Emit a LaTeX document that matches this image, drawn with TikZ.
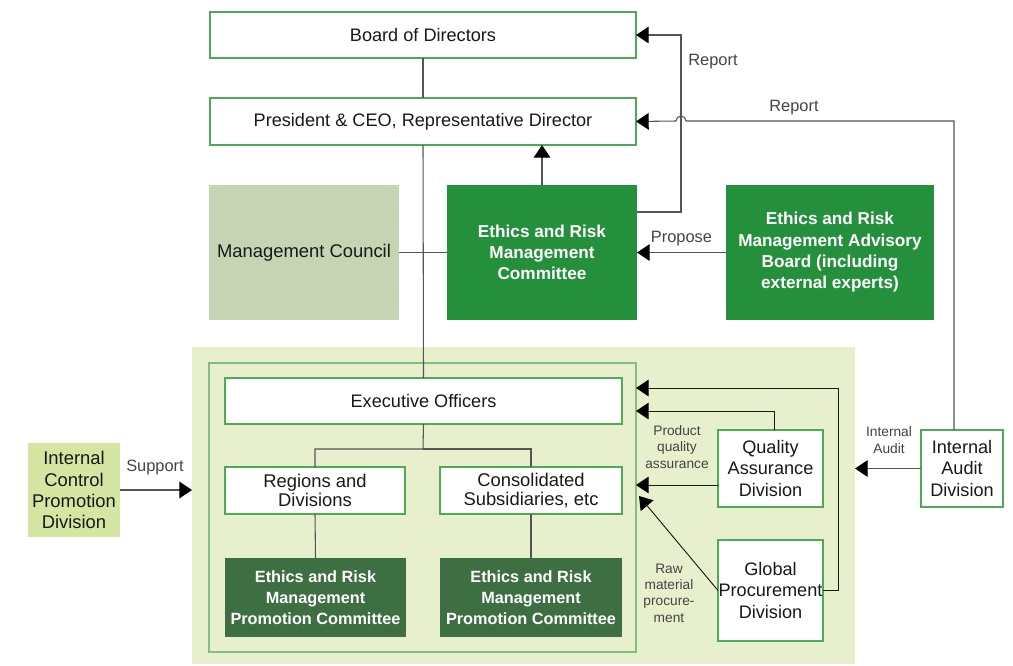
\documentclass[tikz,border=0pt]{standalone}
\usepackage{fontspec}
\setmainfont{Liberation Sans}
\usetikzlibrary{arrows.meta}
\definecolor{bord}{HTML}{4DAA57}
\definecolor{ermcg}{HTML}{25903C}
\definecolor{darkg}{HTML}{3E6F43}
\definecolor{mcg}{HTML}{C6D4B4}
\definecolor{bgg}{HTML}{E8EFCD}
\definecolor{icpg}{HTML}{D5E6A3}
\definecolor{innerb}{HTML}{82BF7F}
\definecolor{lbl}{HTML}{444444}
\definecolor{ln}{HTML}{555555}
\tikzset{
  wbox/.style={draw=bord, line width=0.9pt, fill=white, inner sep=0pt, outer sep=0pt, align=center, text=black!90, font=\fontsize{13.6}{15.8}\selectfont},
  gbox/.style={fill=ermcg, inner sep=0pt, outer sep=0pt, align=center, text=white, font=\fontsize{12.9}{16}\selectfont\bfseries},
  dbox/.style={fill=darkg, inner sep=0pt, outer sep=0pt, align=center, text=white, font=\fontsize{12.2}{15.8}\selectfont\bfseries},
  lab/.style={text=lbl, align=center, font=\fontsize{12.3}{14}\selectfont},
  slab/.style={text=lbl, align=center, font=\fontsize{10.3}{12.2}\selectfont},
  conn/.style={draw=ln, line width=0.8pt},
  tip/.style={-{Triangle[length=9.5pt,width=12.5pt,color=black]}},
  garr/.style={draw=ln, line width=0.8pt, tip},
  arr/.style={draw=black!90, line width=0.7pt, tip},
}
\begin{document}
\begin{tikzpicture}[x=0.75pt,y=-0.75pt]
\useasboundingbox (0,0) rectangle (1013,665);
% background region
\node[fill=bgg, inner sep=0pt, outer sep=0pt, minimum width=663*0.75pt, minimum height=317*0.75pt] (bg) at (523.5,505.5) {};
\node[draw=innerb, line width=0.9pt, inner sep=0pt, outer sep=0pt, minimum width=427*0.75pt, minimum height=289*0.75pt] (inner) at (422.5,507.5) {};

% top nodes
\node[wbox, minimum width=426*0.75pt, minimum height=46*0.75pt] (brd) at (423,35) {Board of Directors};
\node[wbox, minimum width=426*0.75pt, minimum height=47*0.75pt] (pres) at (423,121.5) {President \& CEO, Representative Director};
\node[fill=mcg, inner sep=0pt, outer sep=0pt, minimum width=190*0.75pt, minimum height=135*0.75pt, text=black!90, font=\fontsize{13.8}{15.8}\selectfont] (mc) at (304,252.5) {Management Council};
\node[gbox, minimum width=190*0.75pt, minimum height=135*0.75pt] (ermc) at (542,252.5) {Ethics and Risk\\Management\\Committee};
\node[gbox, minimum width=208*0.75pt, minimum height=135*0.75pt] (adv) at (830,252.5) {Ethics and Risk\\Management Advisory\\Board (including\\external experts)};

% inner nodes
\node[wbox, minimum width=397*0.75pt, minimum height=46*0.75pt] (eo) at (423.5,401) {Executive Officers};
\node[wbox, minimum width=180*0.75pt, minimum height=47*0.75pt, font=\fontsize{13.8}{14.3}\selectfont] (reg) at (315,490.5) {Regions and\\Divisions};
\node[wbox, minimum width=182*0.75pt, minimum height=47*0.75pt, font=\fontsize{13.8}{14.3}\selectfont] (cons) at (531,490.5) {Consolidated\\Subsidiaries, etc};
\node[dbox, minimum width=181*0.75pt, minimum height=79*0.75pt] (erp1) at (315.5,597.5) {Ethics and Risk\\Management\\Promotion Committee};
\node[dbox, minimum width=182*0.75pt, minimum height=79*0.75pt] (erp2) at (531,597.5) {Ethics and Risk\\Management\\Promotion Committee};

% right nodes
\node[wbox, minimum width=105*0.75pt, minimum height=77*0.75pt] (qad) at (770.5,468.5) {Quality\\Assurance\\Division};
\node[wbox, minimum width=105*0.75pt, minimum height=101*0.75pt] (gpd) at (770.5,590.5) {Global\\Procurement\\Division};
\node[wbox, minimum width=82*0.75pt, minimum height=77*0.75pt] (iad) at (962,468.5) {Internal\\Audit\\Division};
\node[fill=icpg, inner sep=0pt, outer sep=0pt, minimum width=92*0.75pt, minimum height=94*0.75pt, align=center, text=black!90, font=\fontsize{13.8}{15.8}\selectfont] (icp) at (74,490) {Internal\\Control\\Promotion\\Division};

% connectors
\draw[conn] (brd.south) -- (pres.north);
\draw[conn] (pres.south) -- (eo.north);
\draw[conn] (mc.east) -- (ermc.west);
\draw[garr] (ermc.north) -- (ermc.north |- pres.south);
\draw[garr] (adv.west) -- node[lab, above=1pt] {Propose} (ermc.east);
\draw[garr] (ermc.east |- 0,212) -| (681,35) -- (brd.east);
\coordinate (hopR) at (686,121);
\draw[garr] (iad.north -| 954,0) |- (hopR) arc[start angle=0, end angle=180, radius=3.75pt] -- (pres.east);
\coordinate (split) at (423,449);
\draw[conn] (eo.south) -- (split) -| (reg.north);
\draw[conn] (split) -| (cons.north);
\draw[conn] (reg.south) -- (erp1.north);
\draw[conn] (cons.south) -- (erp2.north);
\draw[arr] (gpd.east) -- (838,590.5) |- (inner.east |- 0,388);
\draw[arr] ([xshift=3pt]qad.north) |- (inner.east |- 0,411);
\draw[arr] (qad.west |- 0,485) -- (inner.east |- 0,485);
\draw[arr] (gpd.west) -- (639,496);
\draw[garr] (iad.west) -- (bg.east |- iad.west);
\draw[garr] (icp.east) -- (bg.west |- icp.east);

% labels
\node[lab] (l1) at (713,62) {Report};
\node[lab] (l2) at (794,108) {Report};
\node[lab] (l3) at (155,467) {Support};
\node[slab] (l4) at (889,440) {Internal\\Audit};
\node[slab] (l5) at (677,447) {Product\\quality\\assurance};
\node[slab] (l6) at (669,593) {Raw\\material\\procure-\\ment};
\end{tikzpicture}
\end{document}
